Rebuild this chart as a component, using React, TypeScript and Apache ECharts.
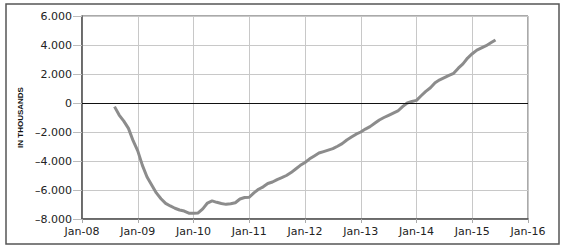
import React, { useEffect, useRef } from "react";
import * as echarts from "echarts";

// Monthly observations, Aug 2008 – Jun 2015 (in thousands)
const startYear = 2008;
const startMonth = 7; // Aug (0 = Jan)
const values: number[] = [
  -250, -830, -1250, -1750, -2600, // Aug–Dec 2008
  -3300, -4300, -5100, -5650, -6200, -6600, -6920, -7100, -7260, -7380, -7450, -7600, // 2009
  -7600, -7580, -7300, -6900, -6750, -6850, -6930, -6990, -6950, -6880, -6620, -6520, // 2010
  -6500, -6200, -5950, -5780, -5550, -5450, -5280, -5150, -5000, -4800, -4550, -4300, // 2011
  -4100, -3850, -3650, -3450, -3350, -3250, -3150, -2980, -2800, -2550, -2350, -2150, // 2012
  -2000, -1800, -1630, -1400, -1170, -1000, -850, -700, -550, -250, 0, 100, // 2013
  180, 500, 800, 1050, 1400, 1600, 1750, 1900, 2050, 2400, 2700, 3100, // 2014
  3400, 3650, 3800, 3950, 4150, 4350, // Jan–Jun 2015
];
const xTickYears = [2008, 2009, 2010, 2011, 2012, 2013, 2014, 2015, 2016];
const yTicks = [-8000, -6000, -4000, -2000, 0, 2000, 4000, 6000];
const yAxisName = "IN THOUSANDS";

function fmtY(v: number): string {
  if (v === 0) return "0";
  const a = Math.abs(v);
  const s = Math.floor(a / 1000) + "." + String(a % 1000).padStart(3, "0");
  return (v < 0 ? "\u2013" : "") + s;
}

export default function App() {
  const ref = useRef<HTMLDivElement>(null);
  useEffect(() => {
    if (!ref.current) return;
    const chart = echarts.init(ref.current, undefined, { renderer: "svg" });
    const data = values.map((v, i) => [startYear + (startMonth + i) / 12, v]);
    const font = "DejaVu Sans";
    chart.setOption({
      animation: false,
      backgroundColor: "#ffffff",
      graphic: [
        {
          type: "rect",
          shape: { x: 6, y: 4, width: 553, height: 240 },
          style: { fill: "none", stroke: "#555", lineWidth: 1.5 },
          silent: true,
        },
      ],
      grid: {
        left: 82,
        right: 38,
        top: 16,
        bottom: 30,
        show: true,
        borderColor: "#555",
        borderWidth: 1,
      },
      xAxis: {
        type: "value",
        min: xTickYears[0],
        max: xTickYears[xTickYears.length - 1],
        interval: 1,
        axisLine: { onZero: false, lineStyle: { color: "#555", width: 1.5 } },
        axisTick: { show: true, length: 4, lineStyle: { color: "#aaa" } },
        splitLine: { show: true, lineStyle: { color: "#c8c8c8", width: 1 } },
        axisLabel: {
          margin: 7,
          fontFamily: font,
          fontSize: 11,
          color: "#222",
          formatter: (v: number) => "Jan-" + String(Math.round(v) % 100).padStart(2, "0"),
        },
      },
      yAxis: {
        type: "value",
        min: yTicks[0],
        max: yTicks[yTicks.length - 1],
        interval: 2000,
        name: yAxisName,
        nameLocation: "middle",
        nameGap: 56,
        nameTextStyle: {
          fontFamily: "Liberation Sans",
          fontWeight: "bold",
          fontSize: 8,
          color: "#111",
        },
        axisLine: { show: true, lineStyle: { color: "#555", width: 1.5 } },
        axisTick: { show: true, length: 9, lineStyle: { color: "#bbb" } },
        splitLine: { show: true, lineStyle: { color: "#c8c8c8", width: 1 } },
        axisLabel: {
          margin: 10,
          fontFamily: font,
          fontSize: 11,
          color: "#222",
          formatter: fmtY,
        },
      },
      series: [
        {
          type: "line",
          data,
          showSymbol: false,
          symbol: "none",
          lineStyle: { color: "#8c8c8c", width: 3 },
          markLine: {
            silent: true,
            symbol: "none",
            label: { show: false },
            lineStyle: { color: "#111", width: 1.2, type: "solid" },
            data: [{ yAxis: 0 }],
          },
        },
      ],
    });
    return () => chart.dispose();
  }, []);
  return (
    <div
      ref={ref}
      style={{ position: "fixed", left: 0, top: 0, width: 566, height: 249 }}
    />
  );
}
